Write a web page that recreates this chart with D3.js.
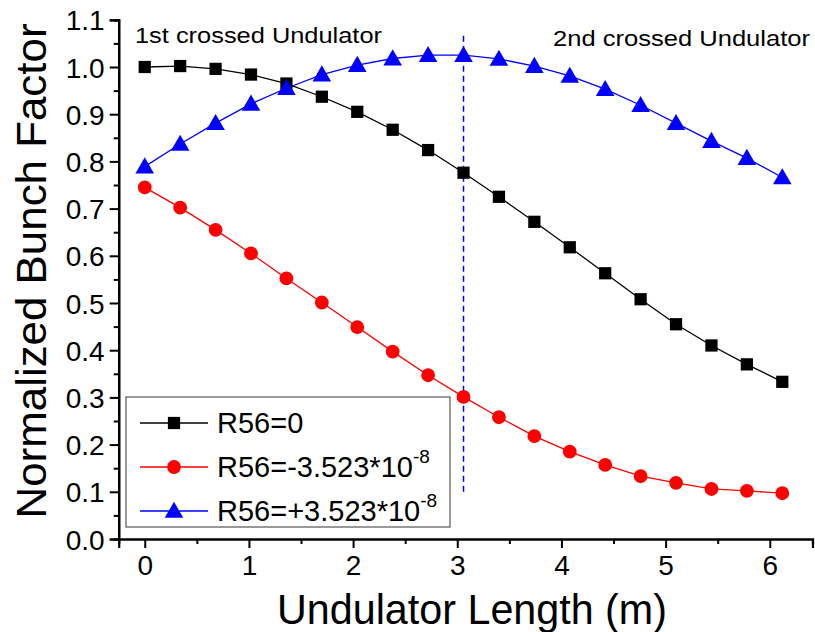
<!DOCTYPE html>
<html><head><meta charset="utf-8">
<script src="https://cdn.jsdelivr.net/npm/d3@7"></script>
<style>body{margin:0;background:#fff}svg{display:block}text{font-family:"Liberation Sans",Arial,sans-serif;fill:#000}</style>
</head><body>
<svg id="c" width="815" height="632"></svg>
<script>
const xValues = [0,0.34,0.68,1.02,1.36,1.70,2.04,2.38,2.72,3.06,3.40,3.74,4.08,4.42,4.76,5.10,5.44,5.78,6.12];
const seriesR0 = [1.000,1.002,0.996,0.984,0.965,0.937,0.905,0.867,0.824,0.776,0.725,0.672,0.618,0.563,0.508,0.455,0.410,0.370,0.333];
const seriesRneg = [0.745,0.702,0.655,0.605,0.552,0.501,0.449,0.397,0.347,0.301,0.258,0.218,0.185,0.157,0.133,0.119,0.106,0.102,0.097];
const seriesRpos = [0.789,0.837,0.881,0.922,0.955,0.984,1.004,1.018,1.025,1.025,1.017,1.002,0.981,0.953,0.919,0.881,0.843,0.807,0.766];
const seriesNames = ["R56=0","R56=-3.523*10","R56=+3.523*10"];
const seriesSup = ["","-8","-8"];
const seriesColors = ["#000000","#ff0000","#0000ff"];
const xTicks = [0,1,2,3,4,5,6];
const yTicks = [0.0,0.1,0.2,0.3,0.4,0.5,0.6,0.7,0.8,0.9,1.0,1.1];
const markerLine = {x:3.06, y0:0.1, y1:1.07};
const annotations = ["1st crossed Undulator","2nd crossed Undulator"];
const xTitle = "Undulator Length (m)";
const yTitle = "Normalized Bunch Factor";

const svg = d3.select("#c");
const x = d3.scaleLinear().domain([-0.25, 6.41]).range([118.7, 812.5]);
const y = d3.scaleLinear().domain([0, 1.1]).range([539, 19.8]);

// axes
const gx = svg.append("g").attr("transform","translate(0,539)");
gx.call(d3.axisBottom(x).tickValues(d3.range(0.5,6.4,1)).tickSize(5).tickFormat(""));
const gx2 = svg.append("g").attr("transform","translate(0,539)");
gx2.call(d3.axisBottom(x).tickValues(xTicks).tickSize(9).tickPadding(6).tickFormat(d3.format("d")));
const gy = svg.append("g").attr("transform","translate(118.7,0)");
gy.call(d3.axisLeft(y).tickValues(d3.range(0.05,1.1,0.1)).tickSize(5).tickFormat(""));
const gy2 = svg.append("g").attr("transform","translate(118.7,0)");
gy2.call(d3.axisLeft(y).tickValues(yTicks).tickSize(9).tickPadding(5).tickFormat(d3.format(".1f")));
svg.selectAll(".domain").attr("stroke","#000").attr("stroke-width",2.2);
svg.selectAll(".tick line").attr("stroke","#000").attr("stroke-width",2);
svg.selectAll(".tick text").style("font-size","28px").style("font-family",'"Liberation Sans",Arial,sans-serif').attr("fill","#000");
gx2.selectAll(".tick text").attr("dy","0.75em");
gy2.selectAll(".tick text").attr("dy","0.36em");

// titles
svg.append("text").attr("x",472).attr("y",624).attr("text-anchor","middle")
  .style("font-size","42px").attr("textLength",390).attr("lengthAdjust","spacingAndGlyphs").text(xTitle);
svg.append("text").attr("transform","translate(46,271) rotate(-90)").attr("text-anchor","middle")
  .style("font-size","42px").attr("textLength",495).attr("lengthAdjust","spacingAndGlyphs").text(yTitle);

// annotations
svg.append("text").attr("x",135).attr("y",43).style("font-size","22px").attr("textLength",247).attr("lengthAdjust","spacingAndGlyphs").text(annotations[0]);
svg.append("text").attr("x",553).attr("y",46).style("font-size","22px").attr("textLength",257).attr("lengthAdjust","spacingAndGlyphs").text(annotations[1]);

// dashed line
svg.append("line").attr("x1",x(markerLine.x)).attr("x2",x(markerLine.x))
  .attr("y1",y(markerLine.y0)).attr("y2",y(markerLine.y1))
  .attr("stroke","#0000ff").attr("stroke-width",1.5).attr("stroke-dasharray","6,4");

const data = [seriesR0, seriesRneg, seriesRpos];
const line = d3.line().x((d,i)=>x(xValues[i])).y(d=>y(d));
const symbols = [d3.symbolSquare, d3.symbolCircle, d3.symbolTriangle];
const sizes = [150, 150, 150];
data.forEach((s,k)=>{
  svg.append("path").datum(s).attr("d",line).attr("fill","none").attr("stroke",seriesColors[k]).attr("stroke-width",1.3);
});
data.forEach((s,k)=>{
  svg.append("g").selectAll("path").data(s).join("path")
    .attr("transform",(d,i)=>`translate(${x(xValues[i])},${y(d)+(k===2?1.5:0)})`)
    .attr("d",d3.symbol(symbols[k],sizes[k])).attr("fill",seriesColors[k]);
});

// legend
const lg = svg.append("g");
lg.append("rect").attr("x",126).attr("y",397).attr("width",324).attr("height",130)
  .attr("fill","#fff").attr("stroke","#555").attr("stroke-width",1.2);
const rowsY = [423,467,511];
seriesNames.forEach((n,k)=>{
  lg.append("line").attr("x1",140).attr("x2",208).attr("y1",rowsY[k]).attr("y2",rowsY[k]).attr("stroke",seriesColors[k]).attr("stroke-width",1.3);
  lg.append("path").attr("transform",`translate(174,${rowsY[k]+(k===2?1.5:0)})`).attr("d",d3.symbol(symbols[k],sizes[k])).attr("fill",seriesColors[k]);
  const t = lg.append("text").attr("x",217).attr("y",rowsY[k]+10).style("font-size","29px");
  t.append("tspan").text(n);
  if (seriesSup[k]) t.append("tspan").attr("dy",-14).style("font-size","19px").text(seriesSup[k]);
});
</script>
</body></html>
